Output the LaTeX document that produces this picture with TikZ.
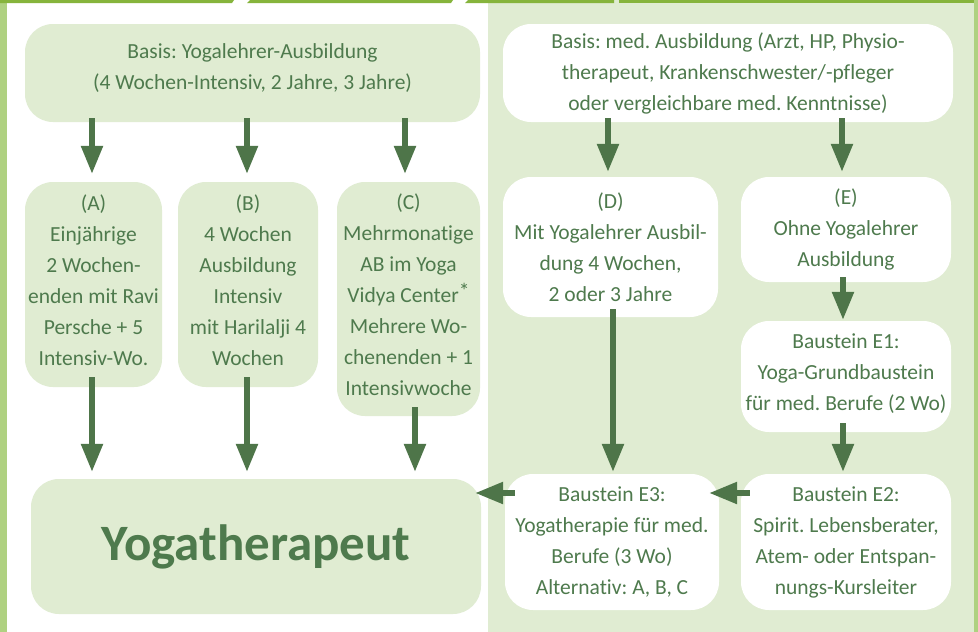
\documentclass[tikz,border=0pt]{standalone}
\usepackage{fontspec}
\setmainfont{Carlito}[Ligatures={NoCommon}]
\usetikzlibrary{arrows.meta}
\definecolor{topbar}{HTML}{86B43C}
\definecolor{sidebar}{HTML}{AFD181}
\definecolor{panel}{HTML}{E0ECD2}
\definecolor{txt}{HTML}{4E7A4D}
\definecolor{arr}{HTML}{4E7549}
\frenchspacing
\begin{document}
\begin{tikzpicture}[x=1pt,y=-1pt,
  box/.style={rounded corners=28pt, inner sep=0pt, align=center, text=txt,
    font=\fontsize{21.5}{31}\selectfont\frenchspacing},
  lbox/.style={box, fill=panel},
  wbox/.style={box, fill=white},
  flow/.style={draw=arr, line width=5.5pt, -{Triangle[length=28pt,width=21pt]}},
]
\useasboundingbox (0,0) rectangle (978,632);
% backgrounds
\fill[white] (0,0) rectangle (978,632);
\fill[panel] (488,0) rectangle (974,632);
\fill[sidebar] (0,0) rectangle (7,632);
\fill[sidebar] (974,0) rectangle (978,632);
\fill[topbar] (0,0) -- (234,0) -- (232,3) -- (0,3) -- cycle;
\fill[topbar] (250,0) -- (453,0) -- (451,3) -- (247,3) -- cycle;
\fill[topbar] (468,0) -- (614,0) -- (614,3) -- (465,3) -- cycle;
\fill[topbar] (619,0) -- (974,0) -- (974,3) -- (619,3) -- cycle;

% left column
\node[lbox, minimum width=455pt, minimum height=98pt] (basisL) at (252.5,73)
  {Basis: Yogalehrer-Ausbildung\\(4 Wochen-Intensiv, 2 Jahre, 3 Jahre)\\[-19pt]};
\node[lbox, minimum width=137pt, minimum height=205pt] (A) at (93.5,284.5)
  {(A)\\Einjährige\\2 Wochen-\\enden mit Ravi\\Persche + 5\\Intensiv-Wo.\\[-23pt]};
\node[lbox, minimum width=140pt, minimum height=205pt] (B) at (248,284.5)
  {(B)\\4 Wochen\\Ausbildung\\Intensiv\\mit Harilalji 4\\Wochen\\[-23pt]};
\node[lbox, minimum width=143pt, minimum height=234pt] (C) at (408.5,299)
  {(C)\\Mehrmonatige\\AB im Yoga\\Vidya Center\raisebox{4pt}{*}\\Mehrere Wo-\\chenenden + 1\\Intensivwoche\\[-23pt]};
\node[lbox, minimum width=450pt, minimum height=135pt, font=\fontsize{51}{54}\bfseries] (Y) at (256,546.5)
  {Yogatherapeut};

% right column
\node[wbox, minimum width=450pt, minimum height=98pt] (basisR) at (728,73)
  {Basis: med. Ausbildung (Arzt, HP, Physio-\\therapeut, Krankenschwester/-pfleger\\oder vergleichbare med. Kenntnisse)};
\node[wbox, minimum width=215pt, minimum height=140pt] (D) at (610.5,247)
  {(D)\\Mit Yogalehrer Ausbil-\\dung 4 Wochen,\\2 oder 3 Jahre};
\node[wbox, minimum width=210pt, minimum height=105pt] (E) at (846,229.5)
  {(E)\\Ohne Yogalehrer\\Ausbildung};
\node[wbox, minimum width=210pt, minimum height=111pt] (E1) at (846,376.5)
  {Baustein E1:\\Yoga-Grundbaustein\\für med. Berufe (2 Wo)\\[-23pt]};
\node[wbox, minimum width=214pt, minimum height=136pt] (E3) at (612,542)
  {Baustein E3:\\Yogatherapie für med.\\Berufe (3 Wo)\\Alternativ: A, B, C};
\node[wbox, minimum width=210pt, minimum height=136pt] (E2) at (846,542)
  {Baustein E2:\\Spirit. Lebensberater,\\Atem- oder Entspan-\\nungs-Kursleiter};

% connectors
\draw[flow] ([xshift=-160.5pt,yshift=4pt]basisL.south) -- ([xshift=-1.5pt,yshift=8pt]A.north);
\draw[flow] ([xshift=-5.5pt,yshift=4pt]basisL.south) -- ([xshift=-1pt,yshift=8pt]B.north);
\draw[flow] ([xshift=152.5pt,yshift=4pt]basisL.south) -- ([xshift=-3.5pt,yshift=8pt]C.north);
\draw[flow] ([xshift=-1.5pt,yshift=10pt]A.south) -- ([xshift=-164pt,yshift=7pt]Y.north);
\draw[flow] ([xshift=-1pt,yshift=10pt]B.south) -- ([xshift=-9pt,yshift=7pt]Y.north);
\draw[flow] ([xshift=6.5pt,yshift=9pt]C.south) -- ([xshift=159pt,yshift=7pt]Y.north);
\draw[flow] ([xshift=-120pt,yshift=4pt]basisR.south) -- ([xshift=-2.5pt,yshift=5pt]D.north);
\draw[flow] ([xshift=114pt,yshift=4pt]basisR.south) -- ([xshift=-4pt,yshift=5pt]E.north);
\draw[flow] ([xshift=-3pt,yshift=5pt]E.south) -- ([xshift=-3pt,yshift=1pt]E1.north);
\draw[flow] ([xshift=2.5pt,yshift=8pt]D.south) -- ([xshift=1pt,yshift=2pt]E3.north);
\draw[flow] ([xshift=-3pt,yshift=9pt]E1.south) -- ([xshift=-3pt,yshift=2pt]E2.north);
\draw[flow] ([xshift=9pt,yshift=49pt]E2.west) -- ([xshift=-10pt,yshift=49pt]E3.east);
\draw[flow] ([xshift=10pt,yshift=49pt]E3.west) -- ([xshift=-6pt,yshift=53.5pt]Y.east);
\end{tikzpicture}
\end{document}
